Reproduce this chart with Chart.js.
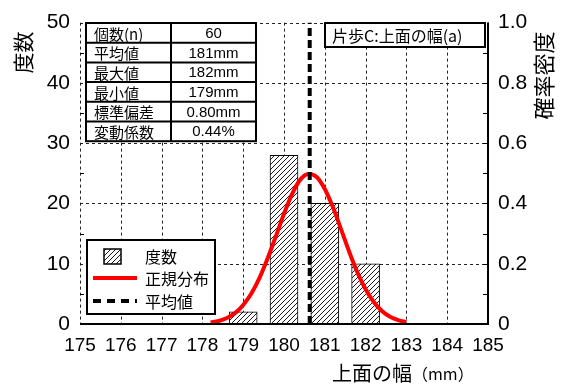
<!DOCTYPE html>
<html>
<head>
<meta charset="utf-8">
<script src="https://cdn.jsdelivr.net/npm/chart.js@4.4.1/dist/chart.umd.min.js"></script>
<style>
  html, body { margin: 0; padding: 0; background: #fff; }
  canvas { display: block; }
</style>
</head>
<body>
<canvas id="c" width="563" height="389"></canvas>
<script>
// Histogram of top-face width (mm): bin centres and counts
const binCenters = [179, 180, 181, 182];
const binCounts = [2, 28, 20, 10];

// Mean width (mm)
const meanWidth = 180.63;

// Normal density curve points (width mm, density)
const curveX = [178.2, 178.4, 178.6, 178.8, 179.0, 179.2, 179.4, 179.6, 179.8, 180.0,
                180.2, 180.4, 180.6, 180.8, 181.0, 181.2, 181.4, 181.6, 181.8, 182.0,
                182.2, 182.4, 182.6, 182.8, 183.0];
const curveDensity = [0.005, 0.010, 0.020, 0.036, 0.063, 0.101, 0.153, 0.218, 0.291, 0.366,
                      0.432, 0.479, 0.498, 0.488, 0.448, 0.387, 0.314, 0.239, 0.171, 0.115,
                      0.073, 0.043, 0.024, 0.013, 0.006];

// Axis ranges and ticks
const xTickValues = [175, 176, 177, 178, 179, 180, 181, 182, 183, 184, 185];
const countTicks = [0, 10, 20, 30, 40, 50];
const densityTicks = [0, 0.2, 0.4, 0.6, 0.8, 1.0];

// Texts
const statLabels = ['個数(n)', '平均値', '最大値', '最小値', '標準偏差', '変動係数'];
const statValues = ['60', '181mm', '182mm', '179mm', '0.80mm', '0.44%'];
const chartTitle = '片歩C:上面の幅(a)';
const legendLabels = ['度数', '正規分布', '平均値'];
const xTitleMain = '上面の幅';
const xTitleUnit = '（mm）';
const yTitleLeft = '度数';
const yTitleRight = '確率密度';

const LATIN = '"Liberation Sans", Arial, "Noto Sans CJK JP", sans-serif';
const CJK = '"Noto Sans CJK JP", "Liberation Sans", sans-serif';

const canvas = document.getElementById('c');
const mainCtx = canvas.getContext('2d');

// Diagonal hatch fill for the histogram bars
function makeHatch() {
  const s = 5;
  const c = document.createElement('canvas');
  c.width = s; c.height = s;
  const g = c.getContext('2d');
  g.fillStyle = '#fff';
  g.fillRect(0, 0, s, s);
  g.strokeStyle = '#000';
  g.lineWidth = 0.9;
  g.beginPath();
  g.moveTo(0, s); g.lineTo(s, 0);
  g.moveTo(-1, 1); g.lineTo(1, -1);
  g.moveTo(s - 1, s + 1); g.lineTo(s + 1, s - 1);
  g.stroke();
  return mainCtx.createPattern(c, 'repeat');
}
const hatch = makeHatch();

function seg(ctx, x1, y1, x2, y2) {
  ctx.beginPath(); ctx.moveTo(x1, y1); ctx.lineTo(x2, y2); ctx.stroke();
}

const decor = {
  id: 'decor',
  beforeDatasetsDraw(chart) {
    const { ctx, chartArea: a, scales: { x, y } } = chart;
    ctx.save();
    ctx.strokeStyle = '#222';
    ctx.lineWidth = 1;
    ctx.setLineDash([3, 3]);
    xTickValues.forEach(v => {
      const X = Math.round(x.getPixelForValue(v)) + 0.5;
      seg(ctx, X, a.top, X, a.bottom);
    });
    countTicks.forEach(v => {
      const Y = Math.round(y.getPixelForValue(v)) + 0.5;
      seg(ctx, a.left, Y, a.right, Y);
    });
    ctx.restore();
  },
  afterDatasetsDraw(chart) {
    const { ctx, chartArea: a, scales: { y, y2 } } = chart;
    ctx.save();
    ctx.setLineDash([]);
    ctx.strokeStyle = '#000';

    // solid right and bottom frame
    ctx.lineWidth = 2;
    seg(ctx, a.right, a.top, a.right, a.bottom + 1);
    seg(ctx, a.left, a.bottom, a.right + 1, a.bottom);

    // inward minor ticks
    ctx.lineWidth = 1;
    for (let v = 5; v < 50; v += 10) {
      const Y = Math.round(y.getPixelForValue(v)) + 0.5;
      seg(ctx, a.left, Y, a.left + 4, Y);
    }
    for (let k = 1; k < 10; k++) {
      const Y = Math.round(y2.getPixelForValue(k / 10)) + 0.5;
      seg(ctx, a.right - 5, Y, a.right, Y);
    }

    // statistics table
    const tx = 86, ty = 23, c1 = 85, c2 = 85, rh = 19.7;
    ctx.fillStyle = '#fff';
    ctx.fillRect(tx, ty, c1 + c2, rh * statLabels.length);
    ctx.lineWidth = 2;
    ctx.strokeRect(tx, ty, c1 + c2, rh * statLabels.length);
    seg(ctx, tx + c1, ty, tx + c1, ty + rh * statLabels.length);
    for (let i = 1; i < statLabels.length; i++) {
      seg(ctx, tx, ty + rh * i, tx + c1 + c2, ty + rh * i);
    }
    ctx.fillStyle = '#000';
    ctx.textBaseline = 'middle';
    statLabels.forEach((t, i) => {
      ctx.font = '15px ' + CJK;
      ctx.textAlign = 'left';
      ctx.fillText(t, tx + 8, ty + rh * i + rh / 2 + 1);
      ctx.font = '15px ' + LATIN;
      ctx.textAlign = 'center';
      ctx.fillText(statValues[i], tx + c1 + c2 / 2, ty + rh * i + rh / 2 + 1);
    });

    // title box
    ctx.fillStyle = '#fff';
    ctx.fillRect(325, 23, 160, 24);
    ctx.lineWidth = 2;
    ctx.strokeRect(325, 23, 160, 24);
    ctx.fillStyle = '#000';
    ctx.font = '16px ' + CJK;
    ctx.textAlign = 'left';
    ctx.fillText(chartTitle, 332, 36);

    // legend
    ctx.fillStyle = '#fff';
    ctx.fillRect(87, 240, 128, 74);
    ctx.lineWidth = 2;
    ctx.strokeRect(87, 240, 128, 74);
    ctx.fillStyle = hatch;
    ctx.fillRect(104, 249, 17, 15);
    ctx.lineWidth = 1.5;
    ctx.strokeRect(104, 249, 17, 15);
    ctx.strokeStyle = '#ff0000';
    ctx.lineWidth = 4;
    seg(ctx, 93, 278, 137, 278);
    ctx.strokeStyle = '#000';
    ctx.setLineDash([8, 6]);
    seg(ctx, 93, 301, 137, 301);
    ctx.setLineDash([]);
    ctx.fillStyle = '#000';
    ctx.font = '16px ' + CJK;
    ctx.textAlign = 'left';
    ctx.fillText(legendLabels[0], 145, 257);
    ctx.fillText(legendLabels[1], 145, 279);
    ctx.fillText(legendLabels[2], 145, 302);

    // axis titles
    ctx.textAlign = 'right';
    ctx.font = '21px ' + CJK;
    ctx.save();
    ctx.translate(23, a.top + 9);
    ctx.rotate(-Math.PI / 2);
    ctx.fillText(yTitleLeft, 0, 0);
    ctx.restore();
    ctx.font = '22px ' + CJK;
    ctx.save();
    ctx.translate(544, a.top + 9);
    ctx.rotate(-Math.PI / 2);
    ctx.fillText(yTitleRight, 0, 0);
    ctx.restore();

    ctx.textAlign = 'left';
    ctx.font = '20px ' + CJK;
    ctx.fillText(xTitleMain, 332, 373);
    const w = ctx.measureText(xTitleMain).width;
    ctx.font = '16px ' + CJK;
    ctx.fillText(xTitleUnit, 332 + w, 374);

    ctx.restore();
  }
};

new Chart(canvas, {
  data: {
    datasets: [
      {
        type: 'line',
        label: legendLabels[2],
        data: [{ x: meanWidth, y: 0 }, { x: meanWidth, y: 50 }],
        xAxisID: 'x',
        yAxisID: 'y',
        borderColor: '#000',
        borderWidth: 4,
        borderDash: [8, 4],
        pointRadius: 0,
        order: 0
      },
      {
        type: 'line',
        label: legendLabels[1],
        data: curveX.map((v, i) => ({ x: v, y: curveDensity[i] })),
        xAxisID: 'x',
        yAxisID: 'y2',
        borderColor: '#ff0000',
        borderWidth: 4,
        pointRadius: 0,
        cubicInterpolationMode: 'monotone',
        order: 1
      },
      {
        type: 'bar',
        label: legendLabels[0],
        data: binCenters.map((v, i) => ({ x: v, y: binCounts[i] })),
        xAxisID: 'x',
        yAxisID: 'y',
        backgroundColor: hatch,
        borderColor: '#000',
        borderWidth: 1,
        barThickness: 28,
        grouped: false,
        order: 2
      }
    ]
  },
  options: {
    responsive: false,
    animation: false,
    devicePixelRatio: 1,
    layout: { padding: { top: 16, left: 0, right: 0, bottom: 0 } },
    plugins: { legend: { display: false }, tooltip: { enabled: false } },
    scales: {
      x: {
        type: 'linear',
        offset: false,
        min: 175, max: 185,
        afterBuildTicks: s => { s.ticks = xTickValues.map(v => ({ value: v })); },
        ticks: { color: '#000', font: { family: LATIN, size: 19 }, padding: 10, maxRotation: 0, autoSkip: false },
        grid: { display: false, drawTicks: false, offset: false },
        border: { display: false },
        afterFit: s => { s.height = 65; }
      },
      y: {
        position: 'left',
        min: 0, max: 50,
        afterBuildTicks: s => { s.ticks = countTicks.map(v => ({ value: v })); },
        ticks: { color: '#000', font: { family: LATIN, size: 21 }, padding: 10 },
        grid: { display: false, drawTicks: false },
        border: { display: false },
        afterFit: s => { s.width = 80; }
      },
      y2: {
        position: 'right',
        min: 0, max: 1,
        afterBuildTicks: s => { s.ticks = densityTicks.map(v => ({ value: v })); },
        ticks: {
          color: '#000', font: { family: LATIN, size: 21 }, padding: 10,
          callback: v => (v === 0 ? '0' : v.toFixed(1))
        },
        grid: { display: false, drawTicks: false },
        border: { display: false },
        afterFit: s => { s.width = 75; }
      }
    }
  },
  plugins: [decor]
});
</script>
</body>
</html>
